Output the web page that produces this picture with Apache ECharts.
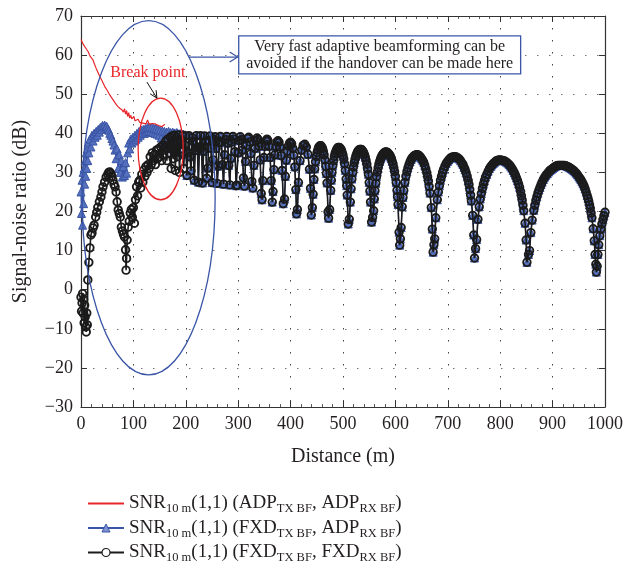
<!DOCTYPE html>
<html><head><meta charset="utf-8">
<script src="https://cdn.jsdelivr.net/npm/echarts@6.0.0/dist/echarts.min.js"></script>
<style>html,body{margin:0;padding:0;background:#fff}#c{width:626px;height:570px}</style>
</head><body><div id="c"></div>
<script>
// ---------- data ----------
const xRange = [0, 1000, 100];
const yRange = [-30, 70, 10];

const redPts = [[0,64.0],[2,63.4],[5,62.6],[8,62.0],[11,61.5],[14,60.8],[17,59.8],[20,59.3],[23,58.7],[26,57.6],[29,56.6],[32,55.7],[35,54.8],[38,54.0],[42,52.9],[46,51.8],[50,51.0],[54,50.0],[58,49.2],[62,48.4],[66,47.6],[70,46.9],[74,46.4],[78,46.0],[81,45.4],[83,46.3],[85,44.9],[87,45.8],[89,44.3],[91,45.3],[93,43.9],[95,44.6],[97,43.7],[99,43.4],[101,44.3],[103,43.2],[106,43.0],[109,43.6],[112,42.8],[115,43.2],[118,42.6],[121,43.0],[124,42.4],[127,43.4],[130,42.3],[133,42.8],[136,42.5],[139,42.2],[142,42.4],[145,42.1],[148,42.0],[151,41.8],[154,41.7],[157,41.4],[160,42.3]];

const blueNear = [[0,25],[1,19.5],[2,28],[3,16.5],[4,30],[5,22],[6,31],[7,27],[8,33],[9,29],[10,35],[11,31],[12,36],[13,33],[14,37.5],[15,35],[17,38.5],[19,36.5],[21,39.5],[23,38],[25,40],[27,39],[29,40.5],[31,39.5],[33,41],[35,40.3],[37,41.5],[39,41],[41,42],[43,41.6],[45,42.1],[47,41.6],[49,41.8],[51,41.2],[53,40.8],[55,40],[57,39.5],[59,38.7],[61,38],[63,37],[65,35.7],[67,33.5],[69,36],[71,31],[73,34.5],[75,30],[77,33],[79,28.8],[81,31.5],[83,29.2],[85,32.5],[87,29.8],[89,35],[91,37.5],[93,36],[95,38.5],[97,37.5],[99,39],[101,38],[103,39.5],[105,38.5],[107,40],[109,39],[111,40.5],[113,39.5],[115,40.8],[117,40],[119,41],[121,40],[123,41.2],[125,40.3],[127,41.5],[129,40.5],[131,41.6],[133,40.5],[135,41.5],[137,40.2],[139,41.3],[141,40],[143,41.2],[145,39.8],[147,41],[149,39.5],[151,40.8],[153,38.8],[155,40.6],[157,38],[159,40.5],[161,37.5],[163,40.3],[165,36.5],[167,40.5],[169,38],[171,40.2],[173,36],[175,40.3],[177,38.5],[179,40.1],[181,35.5],[183,40.2],[185,37],[187,39.9],[189,35],[191,40],[193,37.5],[195,39.8],[197,34.5],[199,39.6]];

const blackNear = [[0,-1.9],[1,-5.5],[2,-3.4],[3,-1],[4,-6],[5,-2.5],[6,-8.5],[7,-4],[8,-7],[9,-9.5],[10,-10.8],[11,-6],[12,-9],[13,2.5],[15,7],[17,10.7],[19,14],[21,14.5],[23,15.8],[25,16.5],[28,18.6],[30,19.8],[32,21.1],[35,22.5],[38,23.7],[40,25],[42,26.3],[45,27.5],[48,28.8],[51,29.5],[53,30],[55,30.1],[57,29.7],[59,29],[61,28],[63,27],[65,26.3],[67,25],[69,22.5],[71,20.4],[73,19.5],[75,18.6],[77,16],[79,15],[81,14.2],[83,13.5],[85,10.2],[86,5.0],[87,8],[88,12.7],[90,16],[92,17.5],[94,19.6],[96,20.5],[98,18.5],[100,21],[102,17],[104,23],[106,26.3],[108,24],[110,27.5],[112,28],[114,26],[116,29.5],[118,27.5],[120,30.6],[122,29],[124,31.5],[126,30],[128,32],[130,31],[132,34],[134,32],[136,35],[138,33],[140,34.5],[142,32],[144,35.7],[146,33.5],[148,36],[150,34],[152,36.5],[154,33],[156,37],[158,34.5],[160,36.5],[162,38],[164,33],[166,38.5],[168,35],[170,39],[172,31],[174,39.3],[176,33.5],[178,39.5],[180,30.5],[182,39],[184,34],[186,39.6],[188,30],[190,38.5],[192,36],[194,39.5],[196,31],[198,37],[200,39.3]];

// far region (both fixed-TX series coincide here)
const farA = [[202,29.2],[204,35.1],[206,39.4],[208,34.0],[210,30.4],[212,38.9],[214,38.0],[216,28.0],[218,35.6],[220,39.4],[222,36.4],[224,27.5],[226,36.5],[228,39.4],[230,36.3],[232,27.3],[234,35.4],[236,39.3],[238,37.9],[240,28.5],[242,31.1],[244,38.2],[246,39.3],[248,36.2],[250,27.4],[252,33.2],[254,38.4],[256,39.1],[258,36.1],[260,27.2],[262,31.6],[264,37.6],[266,39.2],[268,37.8],[270,32.0],[272,27.0],[274,34.5],[276,38.4],[278,39.2],[280,37.5],[282,31.8],[284,26.8],[286,33.6],[288,37.8],[290,39.2],[292,38.5],[294,35.3],[296,26.6],[298,26.7],[300,35.0],[302,38.1],[304,39.1],[306,38.4],[308,35.7],[310,28.6],[312,26.5],[314,32.8],[316,36.9],[318,38.7],[320,39.0],[322,37.8],[324,34.8],[326,27.7],[328,26.0],[330,31.8]];

const farB = [[332,36.1],[334,38.1],[336,38.8],[338,38.4],[340,36.7],[342,33.2],[344,24.6],[345.5,23.0],[347,27.9],[349,33.8],[351,36.7],[353,38.1],[355,38.5],[357,38.1],[359,36.7],[361,33.8],[363,27.9],[365,22.4],[366.5,25.1],[368,30.7],[370,34.5],[372,36.6],[374,37.8],[376,38.1],[378,37.7],[380,36.5],[382,34.3],[384,30.5],[386,22.0],[388.5,23.2],[390,29.0],[392,33.1],[394,35.4],[396,36.8],[398,37.5],[400,37.7],[402,37.3],[404,36.2],[406,34.4],[408,31.4],[410,25.6],[411.3,19.4],[413,20.5],[415,27.4],[418,33.0],[421,35.7],[424,36.9],[427,37.2],[430,36.5],[433,34.6],[436,30.8],[438,25.9],[439.5,19.1],[441.5,21.0],[443,24.4],[444.5,28.2],[446,30.9],[447.5,32.7],[449,34.1],[450.5,35.1],[452,35.8],[453.5,36.4],[455,36.7],[456.5,36.8],[458,36.8],[459.5,36.5],[461,36.1],[462.5,35.4],[464,34.5],[465.5,33.2],[467,31.6],[468.3,29.7],[469.5,27.3],[471.5,19.9],[472.5,18.3],[474.5,20.5],[476.5,25.4],[477.8,28.0],[479,30.0],[480.5,31.7],[482,33.0],[483.5,34.1],[485,34.9],[486.5,35.4],[488,35.9],[489.5,36.25],[491,36.4],[492.5,36.4],[494,36.3],[495.5,36.0],[497,35.7],[498.5,35.1],[500,34.4],[501.5,33.4],[503,32.2],[504.5,30.5],[506,28.3],[507,26.6],[508,24.2],[510,16.8],[512,18.0],[514,22.4],[515.5,25.8],[517,28.3],[518.5,30.0],[520,31.4],[521.5,32.5],[523,33.4],[524.5,34.15],[526,34.7],[527.5,35.2],[529,35.5],[530.5,35.75],[532,35.9],[533.5,35.9],[535,35.9],[536.5,35.65],[538,35.4],[539.5,35.0],[541,34.5],[542.5,33.9],[544,33.1],[545.5,32.1],[547,30.9],[548.5,29.5],[550,27.4],[551.3,25.2],[552.5,22.4],[554.5,17.3],[556.5,18.5],[558.5,20.2],[559.8,23.2],[561,25.3],[562.5,27.2],[564,28.9],[565.5,30.1],[567,31.2],[568.5,32.1],[570,32.8],[571.5,33.4],[573,33.9],[574.5,34.3],[576,34.6],[577.5,34.85],[579,35.1],[580.5,35.15],[582,35.2],[583.5,35.15],[585,35.1],[586.5,34.9],[588,34.6],[589.5,34.35],[591,33.9],[592.5,33.45],[594,32.8],[595.5,32.15],[597,31.2],[598.5,30.2],[600,29.0],[601.5,27.4],[603,25.4],[604,23.8],[605,21.8],[607,14.7],[608.2,11.4]];

const farC = [[609.5,13.0],[611,15.9],[613,21.2],[614.5,23.6],[616,25.4],[618,27.4],[620,29.0],[622,30.2],[624,31.2],[626,32.0],[628,32.7],[630,33.3],[632,33.7],[634,34.0],[636,34.3],[638,34.4],[640,34.5],[642,34.5],[644,34.4],[646,34.2],[648,33.9],[650,33.5],[652,33.1],[654,32.6],[656,31.8],[658,30.9],[660,29.9],[661.5,28.9],[663,27.8],[664.5,26.4],[666,24.7],[668.5,21.0],[670.5,15.5],[672,9.6],[673.5,11.5],[675,13.0],[677,18.4],[680,23.0],[682,25.0],[684,26.6],[686,28.0],[688,29.0],[690,30.0],[692,30.8],[694.5,31.6],[697,32.3],[699.5,32.8],[702,33.2],[704.5,33.6],[707,33.8],[709.5,33.95],[712,34.0],[714.5,34.0],[717,33.9],[719.5,33.65],[722,33.4],[724.5,32.95],[727,32.4],[729,32.0],[731,31.3],[733,30.7],[735,29.9],[737,29.0],[739,27.9],[740.5,26.9],[742,25.6],[743.5,24.2],[745,22.7],[747.5,19.0],[749.5,14.0],[751,8.1],[753,10.5],[755,12.8],[757.5,18.0],[760,21.2],[762,23.2],[764,24.6],[766,25.9],[768,27.0],[770,27.9],[772,28.8],[774.5,29.5],[777,30.3],[779.5,31.0],[782,31.5],[784.5,31.9],[787,32.3],[789.5,32.6],[792,32.9],[794.5,33.0],[797,33.2],[799.5,33.2],[802,33.1],[804.5,33.05],[807,33.0],[809.5,32.8],[812,32.6],[814.5,32.35],[817,32.0],[819.5,31.6],[822,31.1],[824.5,30.5],[827,29.9],[829,29.3],[831,28.6],[833,27.9],[835,27.1],[837,26.2],[839,25.1],[840.5,24.0],[842,22.9],[843.5,21.6],[845,20.2],[847.5,17.0],[849.5,12.7],[851,7.0],[854,9.0],[856,10.0],[858.5,14.6],[861,17.8],[864,20.3],[866,21.6],[868,22.8],[870,23.8],[872,24.7],[874,25.5],[876,26.2],[878,26.9],[880,27.5],[882.5,28.2],[885,28.8],[887.5,29.3],[890,29.7],[892.5,30.1],[895,30.5],[897.5,30.75],[900,31.0],[902.5,31.25],[905,31.5],[907.5,31.65],[910,31.8],[912.5,31.8],[915,31.8],[917.5,31.8],[920,31.8],[922.5,31.75],[925,31.7],[927.5,31.55],[930,31.4],[932.5,31.2],[935,31.0],[937.5,30.75],[940,30.5],[942.5,30.15],[945,29.8],[947.5,29.35],[950,28.9],[952,28.5],[954,28.1],[956,27.6],[958,27.1],[960,26.5],[962,25.8],[964,25.0],[966,24.1],[967.5,23.4],[969,22.6],[970.5,21.7],[972,20.8],[973.5,19.6],[975,18.4],[977.5,15.6],[979.5,12.5],[981,9.0],[982.5,6.5],[983.5,4.5],[985,6.0],[986.5,9.0],[988,11.5],[990,13.8],[992,15.5],[994,16.8],[996,17.9],[998,18.9],[1000,19.8]];

const legendParts = { r: ['ADP', 'ADP'], b: ['FXD', 'ADP'], k: ['FXD', 'FXD'] };
const noteLines = ['Very fast adaptive beamforming can be', 'avoided if the handover can be made here'];
const breakLabel = 'Break point';

// ---------- chart ----------
const FONT = 'Liberation Serif';
const TXT = '#231f20';
const RED = '#e8262a', BLUE = '#3a55a6', BLUE_FILL = '#5570bd', BLK = '#1b1b1b';

const chart = echarts.init(document.getElementById('c'), null, { renderer: 'canvas' });
const grid = { left: 81, right: 20, top: 16, bottom: 163 };

const axisCommon = (min, max, interval) => ({
  type: 'value', min, max, interval,
  axisLine: { show: true, onZero: false, lineStyle: { color: '#333', width: 1.2 } },
  axisTick: { show: true, inside: true, length: 6, lineStyle: { color: '#333', width: 1 } },
  minorTick: { show: true, splitNumber: 5, length: 3, lineStyle: { color: '#333', width: 0.8 } },
});

const minus = v => (v < 0 ? '\u2212' + Math.abs(v) : String(v));

const option = {
  animation: false,
  backgroundColor: '#fff',
  grid,
  xAxis: [
    Object.assign(axisCommon(xRange[0], xRange[1], xRange[2]), {
      position: 'bottom',
      name: 'Distance (m)', nameLocation: 'middle', nameGap: 40,
      nameTextStyle: { fontFamily: FONT, fontSize: 20, color: TXT },
      axisLabel: { fontFamily: FONT, fontSize: 18, color: TXT, margin: 8, formatter: v => String(v) },
      splitLine: { show: true, lineStyle: { type: [1.5, 10.5], color: '#444', width: 1 } },
    }),
    Object.assign(axisCommon(xRange[0], xRange[1], xRange[2]), {
      position: 'top', axisLabel: { show: false }, splitLine: { show: false },
    }),
  ],
  yAxis: [
    Object.assign(axisCommon(yRange[0], yRange[1], yRange[2]), {
      position: 'left',
      name: 'Signal-noise ratio (dB)', nameLocation: 'middle', nameGap: 50,
      nameTextStyle: { fontFamily: FONT, fontSize: 20, color: TXT },
      axisLabel: { fontFamily: FONT, fontSize: 18, color: TXT, margin: 8, formatter: minus },
      minorTick: { show: false },
      splitLine: { show: true, lineStyle: { type: [1.5, 10.5], color: '#777', width: 1 } },
    }),
    Object.assign(axisCommon(yRange[0], yRange[1], yRange[2]), {
      position: 'right', axisLabel: { show: false }, splitLine: { show: false },
      minorTick: { show: false },
    }),
  ],
  legend: {
    orient: 'vertical', left: 82, top: 489, itemGap: 3,
    itemWidth: 36, itemHeight: 10,
    data: [
      { name: 'r', itemStyle: { color: 'rgba(0,0,0,0)', borderColor: 'rgba(0,0,0,0)', opacity: 0 } },
      { name: 'b', itemStyle: { color: '#7f93d2', borderColor: BLUE, borderWidth: 1 } },
      { name: 'k', itemStyle: { color: '#fff', borderColor: BLK, borderWidth: 1.2 } },
    ],
    formatter: name => {
      const p = legendParts[name];
      return `{m|SNR}{s|10 m}{m|(1,1) (${p[0]}}{s|TX BF}{m|, ${p[1]}}{s|RX BF}{m|)}`;
    },
    textStyle: {
      color: TXT, fontFamily: FONT,
      rich: {
        m: { fontFamily: FONT, fontSize: 19, color: TXT, lineHeight: 24, verticalAlign: 'middle' },
        s: { fontFamily: FONT, fontSize: 12.5, color: TXT, lineHeight: 10, verticalAlign: 'bottom' },
      },
    },
  },
  series: [
    {
      name: 'b', type: 'line', data: blueNear.concat(farA, farB, farC),
      symbol: 'triangle', symbolSize: 8, showAllSymbol: true,
      lineStyle: { color: BLUE, width: 1.2 },
      itemStyle: { color: BLUE_FILL, borderColor: BLUE, borderWidth: 1 },
      z: 2,
    },
    {
      name: 'k', type: 'line', data: blackNear.concat(farA, farB, farC),
      symbol: 'circle', symbolSize: 7.5, showAllSymbol: true,
      lineStyle: { color: BLK, width: 1.6 },
      itemStyle: { color: 'rgba(255,255,255,0)', borderColor: BLK, borderWidth: 1.9 },
      z: 3,
    },
    {
      name: 'r', type: 'line', data: redPts, symbol: 'none',
      lineStyle: { color: RED, width: 1.2 }, itemStyle: { color: RED },
      z: 4,
    },
  ],
};
chart.setOption(option);

// ---------- annotations (positioned in data units) ----------
const blueEllipse = { cx: 129, cy: 23.5, rx: 127, ry: 45.3 };
const redEllipse = { cx: 152, cy: 36, rx: 43, ry: 13 };
const noteBox = { x0: 301, x1: 839, y0: 64.9, y1: 55.2 };
const noteArrow = { x0: 206, x1: 299, y: 59.5 };
const breakText = { x: 127.7, y: 55.4 };
const breakArrow = { x0: 125.8, y0: 53.1, x1: 144.9, y1: 49.0 };

const P = (d, v) => chart.convertToPixel({ xAxisIndex: 0, yAxisIndex: 0 }, [d, v]);
function ellipse(e, color) {
  const c = P(e.cx, e.cy), ex = P(e.cx + e.rx, e.cy), ey = P(e.cx, e.cy + e.ry);
  return { type: 'ellipse', z: 100, shape: { cx: c[0], cy: c[1], rx: ex[0] - c[0], ry: c[1] - ey[1] },
    style: { fill: 'none', stroke: color, lineWidth: 1.3 } };
}
const g = [];
g.push(ellipse(blueEllipse, BLUE));
g.push(ellipse(redEllipse, RED));
{
  const a = P(noteArrow.x0, noteArrow.y), b = P(noteArrow.x1, noteArrow.y);
  g.push({ type: 'polyline', z: 100, shape: { points: [a, b] }, style: { stroke: BLUE, lineWidth: 1.2, fill: 'none' } });
  g.push({ type: 'polyline', z: 100, shape: { points: [[b[0] - 8, b[1] - 5], b, [b[0] - 8, b[1] + 5]] }, style: { stroke: BLUE, lineWidth: 1.2, fill: 'none' } });
  const t = P(noteBox.x0, noteBox.y0), br = P(noteBox.x1, noteBox.y1);
  g.push({ type: 'rect', z: 100, shape: { x: t[0], y: t[1], width: br[0] - t[0], height: br[1] - t[1] },
    style: { fill: '#fff', stroke: BLUE, lineWidth: 1.3 } });
  const cx = (t[0] + br[0]) / 2, h = br[1] - t[1];
  noteLines.forEach((s, i) => g.push({ type: 'text', z: 101, style: { text: s, x: cx, y: t[1] + h * (i === 0 ? 0.29 : 0.74),
    align: 'center', verticalAlign: 'middle', font: `16px "${FONT}"`, fill: TXT } }));
}
{
  const p = P(breakText.x, breakText.y);
  g.push({ type: 'text', z: 101, style: { text: breakLabel, x: p[0], y: p[1], align: 'center', verticalAlign: 'middle',
    font: `16px "${FONT}"`, fill: RED } });
  const a = P(breakArrow.x0, breakArrow.y0), b = P(breakArrow.x1, breakArrow.y1);
  g.push({ type: 'polyline', z: 101, shape: { points: [a, b] }, style: { stroke: '#111', lineWidth: 1, fill: 'none' } });
  const ang = Math.atan2(b[1] - a[1], b[0] - a[0]), L = 8, w = 0.45;
  const h1 = [b[0] - L * Math.cos(ang - w), b[1] - L * Math.sin(ang - w)];
  const h2 = [b[0] - L * Math.cos(ang + w), b[1] - L * Math.sin(ang + w)];
  g.push({ type: 'polyline', z: 101, shape: { points: [h1, b, h2] }, style: { stroke: '#111', lineWidth: 1, fill: 'none' } });
}
chart.setOption({ graphic: g });
</script></body></html>
